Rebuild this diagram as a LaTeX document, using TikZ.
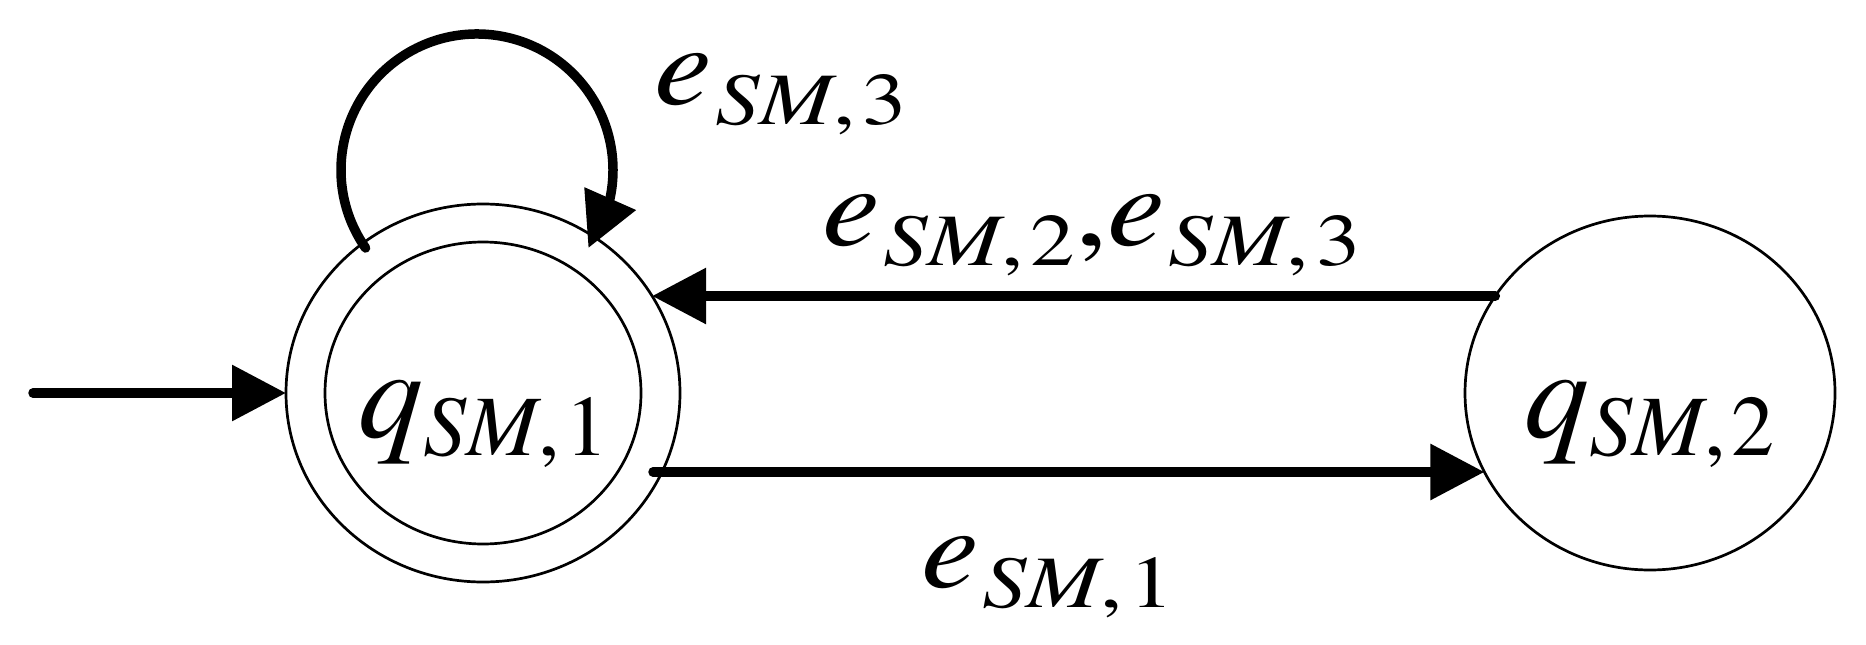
\documentclass[tikz,border=0pt]{standalone}
\usepackage{fontspec}
\setmainfont{texgyretermes}[Extension=.otf, UprightFont=*-regular, ItalicFont=*-italic, BoldFont=*-bold, BoldItalicFont=*-bolditalic]
\usetikzlibrary{arrows.meta,bending,shapes.geometric,calc}
\newcommand\emain{\fontsize{58pt}{58pt}\selectfont}
\newcommand\elab[1]{\scalebox{1.12}[1]{\emain\itshape e}\kern1.5pt\raisebox{-10pt}{\scalebox{1.2}[1]{\fontsize{37pt}{37pt}\selectfont\itshape SM\upshape,\kern3pt#1}}}
\newcommand\qlab[1]{{\fontsize{65pt}{65pt}\selectfont\itshape q}\raisebox{-9pt}{\fontsize{43pt}{43pt}\selectfont\itshape SM\upshape,\kern3pt#1}}
\begin{document}
\begin{tikzpicture}[x=0.5pt,y=0.5pt,
  state/.style={ellipse, draw, line width=1.35pt, inner sep=0pt, outer sep=0pt},
  edge/.style={line width=4.75pt, line cap=round, -{Triangle[length=27pt,width=27pt]}},
  lbl/.style={inner sep=0pt, anchor=base west}]
\useasboundingbox (0,0) rectangle (1866,644);
\node[state, minimum width=197pt, minimum height=189pt] (q1o) at (483,251) {};
\node[state, minimum width=158pt, minimum height=151pt] (q1i) at (483,251) {};
\node[state, minimum width=185pt, minimum height=177pt] (q2) at (1650,251) {};
\node[lbl] (q1lab) at (358,207) {\qlab{1}};
\node[lbl] (q2lab) at (1524,207) {\qlab{2}};
\coordinate (init) at (33,251);
\draw[edge] (init) -- (q1o.west);
\draw[edge] ($(q2.center)+(-154.7,97)$) -- ($(q1o.center)+(169.1,97)$);
\draw[edge] ($(q1o.center)+(170,-79)$) -- ($(q2.center)+(-165.6,-79)$);
\draw[edge] ($(q1o.center)+(-117.4,145)$) arc[start angle=215, end angle=-35, radius=136];
\node[lbl] (l3) at (654,539) {\elab{3}};
\node[lbl] (l23) at (822,399) {\elab{2}\scalebox{1.12}[1]{\emain,}\elab{3}};
\node[lbl] (l1) at (921,57) {\elab{1}};
\end{tikzpicture}
\end{document}
